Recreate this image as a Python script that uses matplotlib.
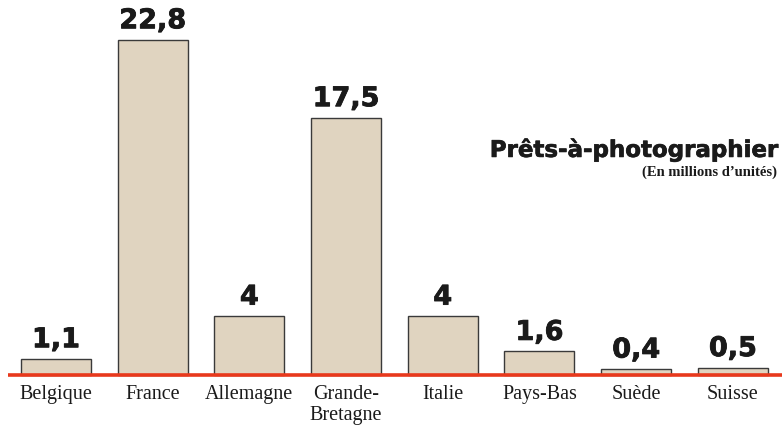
import matplotlib
matplotlib.use("Agg")
import matplotlib.pyplot as plt
import matplotlib.patheffects as pe

pays = ["Belgique", "France", "Allemagne", "Grande-\nBretagne", "Italie",
        "Pays-Bas", "Suède", "Suisse"]
valeurs = [1.1, 22.8, 4, 17.5, 4, 1.6, 0.4, 0.5]
etiquettes = ["1,1", "22,8", "4", "17,5", "4", "1,6", "0,4", "0,5"]

fig = plt.figure(figsize=(7.82, 4.32), dpi=100)
ax = fig.add_axes([0, 0, 1, 1])
ax.set_xlim(-0.579, 7.508)
ax.set_ylim(-3.88, 25.51)
ax.axis("off")

# léger contour pour épaissir les chiffres
gras = [pe.withStroke(linewidth=0.6, foreground="#1a1a1a")]

x = range(len(pays))
ax.bar(x, valeurs, width=0.724, color="#e0d4c0", edgecolor="#3a3a3a",
       linewidth=1.0, zorder=2)
ax.plot([-0.50, 7.508], [0, 0], color="#e8391c", linewidth=2.6, zorder=3,
        solid_capstyle="butt")

for xi, v, lab in zip(x, valeurs, etiquettes):
    ax.annotate(lab, (xi, v), xytext=(0, 4), textcoords="offset points",
                ha="center", va="bottom", fontsize=19.5, fontweight="heavy",
                family="DejaVu Sans", color="#1a1a1a", path_effects=gras)

for xi, p in zip(x, pays):
    ax.annotate(p, (xi, 0), xytext=(0, -7), textcoords="offset points",
                ha="center", va="top", fontsize=14.5, family="Liberation Serif",
                color="#1a1a1a", linespacing=1.2)

fig.text(0.994, 0.653, "Prêts-à-photographier", ha="right", va="center",
         fontsize=16.5, fontweight="bold", family="DejaVu Sans", color="#1a1a1a",
         path_effects=[pe.withStroke(linewidth=0.5, foreground="#1a1a1a")])
fig.text(0.994, 0.602, "(En millions d\u2019unités)", ha="right", va="center",
         fontsize=10.5, fontweight="bold", family="Liberation Serif", color="#1a1a1a")

fig.savefig("out.png", dpi=100)
